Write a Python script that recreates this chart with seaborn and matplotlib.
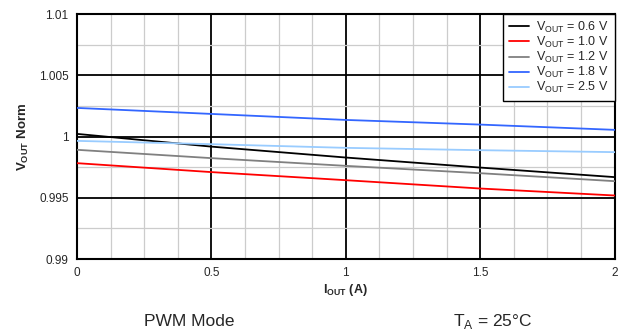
import numpy as np
import pandas as pd
import seaborn as sns
import matplotlib.pyplot as plt
from matplotlib.ticker import MultipleLocator, FuncFormatter

# =========================
# 1. Data
# =========================
iout = [0.0, 0.5, 1.0, 1.5, 2.0]
v_06 = [1.00022, 0.99918, 0.99829, 0.99747, 0.99669]
v_10 = [0.99783, 0.99710, 0.99644, 0.99576, 0.99519]
v_12 = [0.99892, 0.99824, 0.99761, 0.99701, 0.99636]
v_18 = [1.00234, 1.00185, 1.00136, 1.00098, 1.00055]
v_25 = [0.99965, 0.99938, 0.99908, 0.99889, 0.99873]

labels = [r"V$_{\mathregular{OUT}}$ = 0.6 V", r"V$_{\mathregular{OUT}}$ = 1.0 V",
          r"V$_{\mathregular{OUT}}$ = 1.2 V", r"V$_{\mathregular{OUT}}$ = 1.8 V",
          r"V$_{\mathregular{OUT}}$ = 2.5 V"]
colors = ["#000000", "#ff0000", "#808080", "#3366ff", "#99ccff"]

rows = []
for lab, vals in zip(labels, [v_06, v_10, v_12, v_18, v_25]):
    for x, y in zip(iout, vals):
        rows.append({"iout": x, "vout": y, "series": lab})
df = pd.DataFrame(rows)

# =========================
# 2. Plot
# =========================
sns.set_theme(style="white")
plt.rcParams["font.family"] = ["Liberation Sans", "DejaVu Sans"]
plt.rcParams["mathtext.fontset"] = "custom"
plt.rcParams["mathtext.rm"] = "Liberation Sans"
plt.rcParams["mathtext.bf"] = "Liberation Sans:bold"

fig = plt.figure(figsize=(6.31, 3.36), dpi=100)
ax = fig.add_axes([0.122, 0.229, 0.852, 0.729])

sns.lineplot(data=df, x="iout", y="vout", hue="series", hue_order=labels,
             palette=colors, linewidth=1.3, ax=ax, zorder=5)

ax.set_xlim(0, 2)
ax.set_ylim(0.99, 1.01)
ax.xaxis.set_major_locator(MultipleLocator(0.5))
ax.xaxis.set_minor_locator(MultipleLocator(0.125))
ax.yaxis.set_major_locator(MultipleLocator(0.005))
ax.yaxis.set_minor_locator(MultipleLocator(0.0025))
ax.xaxis.set_major_formatter(FuncFormatter(lambda v, p: "%g" % round(v, 4)))
ax.yaxis.set_major_formatter(FuncFormatter(lambda v, p: "%g" % round(v, 4)))
ax.tick_params(axis="both", which="both", length=0, labelsize=8.5, pad=6)

ax.grid(which="minor", color="#cccccc", linewidth=0.9)
ax.grid(which="major", color="#000000", linewidth=1.3)
ax.set_axisbelow(True)
for sp in ax.spines.values():
    sp.set_color("black")
    sp.set_linewidth(1.5)

ax.set_xlabel(r"I$_{\mathregular{OUT}}$ (A)", fontsize=9, fontweight="bold", labelpad=2)
ax.set_ylabel(r"V$_{\mathregular{OUT}}$ Norm", fontsize=9.5, fontweight="bold", labelpad=6)

leg = ax.legend(loc="upper right", fontsize=9, frameon=True, fancybox=False,
                borderaxespad=0.0, handlelength=1.6, labelspacing=0.0,
                borderpad=0.45, handletextpad=0.6)
leg.get_frame().set_edgecolor("black")
leg.get_frame().set_linewidth(1.0)
leg.get_frame().set_alpha(1)
leg.set_zorder(10)

fig.text(0.30, 0.03, "PWM Mode", fontsize=12.5, ha="center")
fig.text(0.78, 0.03, r"T$_{\mathregular{A}}$ = 25°C", fontsize=12.5, ha="center")

plt.savefig("out.png", dpi=100)
